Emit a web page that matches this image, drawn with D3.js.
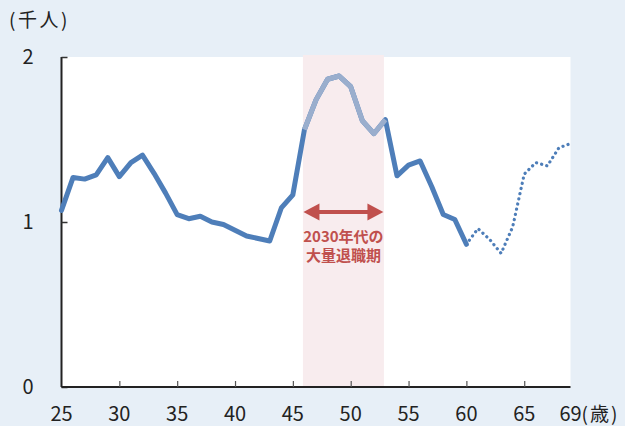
<!DOCTYPE html>
<html>
<head>
<meta charset="utf-8">
<script src="https://cdn.jsdelivr.net/npm/d3@7"></script>
<style>
  html, body { margin: 0; padding: 0; background: #e7eff7; }
  svg { display: block; }
  text { font-family: "Noto Sans CJK JP", "Noto Sans", sans-serif; }
</style>
</head>
<body>
<svg id="chart" width="625" height="426"></svg>
<script>
// Ages (years) and headcount (thousand people)
const agesSolid = [25,26,27,28,29,30,31,32,33,34,35,36,37,38,39,40,41,42,43,44,45,46,47,48,49,50,51,52,53,54,55,56,57,58,59,60];
const valuesSolid = [1.07,1.27,1.26,1.285,1.39,1.275,1.36,1.405,1.295,1.175,1.045,1.02,1.035,1.0,0.985,0.95,0.915,0.9,0.885,1.085,1.165,1.56,1.74,1.865,1.885,1.82,1.615,1.535,1.62,1.28,1.345,1.37,1.215,1.045,1.015,0.865];
const agesProjected = [60,61,62,63,64,65,66,67,68,69];
const valuesProjected = [0.865,0.96,0.895,0.81,0.97,1.29,1.36,1.34,1.45,1.475];
const bandAges = [46, 53];
const xTicks = [25,30,35,40,45,50,55,60,65,69];
const yTicks = [0,1,2];
const bandLabel = ["2030年代の", "大量退職期"];

const svg = d3.select("#chart");
const x = d3.scaleLinear().domain([25, 69]).range([61.5, 570.5]);
const y = d3.scaleLinear().domain([0, 2]).range([387, 57]);

// plot area
svg.append("rect")
  .attr("x", x(25)).attr("y", y(2))
  .attr("width", x(69) - x(25)).attr("height", y(0) - y(2))
  .attr("fill", "#ffffff");

// highlighted band
svg.append("rect")
  .attr("x", x(bandAges[0]) - 1.5).attr("y", y(2) - 2)
  .attr("width", x(bandAges[1]) - x(bandAges[0]))
  .attr("height", y(0) - y(2) + 2)
  .attr("fill", "#f8ecee");

// axes
const yAxis = d3.axisLeft(y).tickValues(yTicks).tickSize(-6).tickPadding(0).tickFormat("");
const gy = svg.append("g").attr("transform", `translate(${x(25)},0)`).call(yAxis);
gy.select(".domain").attr("stroke", "#222").attr("stroke-width", 2).attr("d", `M0,${y(2)}V${y(0)}`);
gy.selectAll(".tick line").attr("stroke", "#333").attr("stroke-width", 1.5);

const xAxis = d3.axisBottom(x).tickValues(xTicks.filter(d => d !== 25 && d !== 69)).tickSize(-6).tickFormat("");
const gx = svg.append("g").attr("transform", `translate(0,${y(0)})`).call(xAxis);
gx.select(".domain").attr("stroke", "#222").attr("stroke-width", 2).attr("d", `M${x(25)},0H${x(69)}`);
gx.selectAll(".tick line").attr("stroke", "#555").attr("stroke-width", 1.2);

// tick labels
svg.append("g").selectAll("text").data(yTicks).join("text")
  .attr("x", 28).attr("y", d => y(d) + 7)
  .attr("text-anchor", "middle").attr("font-size", 20).attr("fill", "#222")
  .text(d => d);
svg.append("g").selectAll("text").data(xTicks).join("text")
  .attr("x", d => x(d)).attr("y", 421)
  .attr("text-anchor", "middle").attr("font-size", 20).attr("fill", "#222")
  .text(d => d);
svg.append("text").attr("x", x(69) + 11).attr("y", 421)
  .attr("font-size", 19).attr("letter-spacing", 2).attr("fill", "#222").text("(歳)");
svg.append("text").attr("x", 9).attr("y", 27)
  .attr("font-size", 19).attr("letter-spacing", 2.5).attr("fill", "#222").text("(千人)");

const line = d3.line().x(d => x(d[0])).y(d => y(d[1]));
const solid = agesSolid.map((a, i) => [a, valuesSolid[i]]);
const inBand = solid.filter(d => d[0] >= bandAges[0] && d[0] <= bandAges[1]);

// main series
svg.append("path").datum(solid).attr("d", line)
  .attr("fill", "none").attr("stroke", "#4e7eb9").attr("stroke-width", 5)
  .attr("stroke-linejoin", "round").attr("stroke-linecap", "round");

// lighter segment within the band
svg.append("path").datum(inBand).attr("d", line)
  .attr("fill", "none").attr("stroke", "#9aaecd").attr("stroke-width", 5)
  .attr("stroke-linejoin", "round");

// projected (dotted)
const projected = agesProjected.map((a, i) => [a, valuesProjected[i]]);
svg.append("path").datum(projected).attr("d", line)
  .attr("fill", "none").attr("stroke", "#4e7eb9").attr("stroke-width", 3.2)
  .attr("stroke-dasharray", "0.1 5.2").attr("stroke-linecap", "round")
  .attr("stroke-dashoffset", -5);

// double-headed arrow across the band
const ay = 212, ax0 = x(bandAges[0]) - 1, ax1 = x(bandAges[1]) - 2;
const red = "#c0504d";
svg.append("line").attr("x1", ax0 + 10).attr("x2", ax1 - 10).attr("y1", ay).attr("y2", ay)
  .attr("stroke", red).attr("stroke-width", 4);
svg.append("path").attr("d", `M${ax0},${ay}L${ax0 + 16},${ay - 8.5}L${ax0 + 16},${ay + 8.5}Z`).attr("fill", red);
svg.append("path").attr("d", `M${ax1},${ay}L${ax1 - 16},${ay - 8.5}L${ax1 - 16},${ay + 8.5}Z`).attr("fill", red);

svg.append("g").selectAll("text").data(bandLabel).join("text")
  .attr("x", (ax0 + ax1) / 2).attr("y", (d, i) => 242 + i * 19)
  .attr("text-anchor", "middle").attr("font-size", 15).attr("font-weight", "bold")
  .attr("fill", red).text(d => d);
</script>
</body>
</html>
